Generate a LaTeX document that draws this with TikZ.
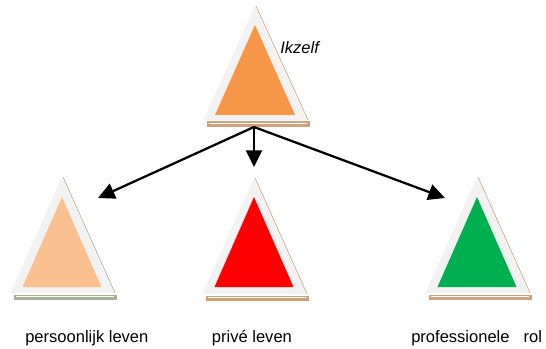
\documentclass[tikz,border=0pt]{standalone}
\usepackage{fontspec}
\setmainfont{Liberation Sans}
\usetikzlibrary{arrows.meta}
\definecolor{outerg}{HTML}{F2F2F2}
\definecolor{tan}{HTML}{CFA27C}
\definecolor{sage}{HTML}{A5B292}
\definecolor{orangeA}{HTML}{F79646}
\definecolor{peach}{HTML}{FAC090}
\definecolor{redA}{HTML}{FF0000}
\definecolor{greenA}{HTML}{00B050}
\tikzset{
  lbl/.style={anchor=base west, inner sep=0pt, font=\fontsize{12.4}{15}\selectfont},
  conn/.style={line width=1.7pt, -{Triangle[length=12.5pt,width=12pt]}},
}
% #1 apex x, #2 apex y outer, #3 base y outer, #4 half width outer, #5 inner apex y, #6 inner base y, #7 inner half width, #8 fill, #9 shadow
\newcommand{\pyr}[9]{%
  \fill[#9] (#1-#4+3,#3+1.5) rectangle (#1+#4+3,#3+7);
  \draw[white, line width=0.45pt] (#1-#4+5,#3+3) -- (#1+#4,#3+3);
  \draw[#9, line width=0.5pt] (#1+1,#2) -- (#1+#4+1.5,#3);
  \fill[outerg] (#1,#2) -- (#1+#4,#3) -- (#1-#4,#3) -- cycle;
  \fill[#8] (#1,#5) -- (#1+#7,#6) -- (#1-#7,#6) -- cycle;
}
\begin{document}
\begin{tikzpicture}[x=0.75pt,y=-0.75pt]
\useasboundingbox (0,0) rectangle (546,349);
\pyr{255}{6}{120}{51.5}{25}{115}{40}{orangeA}{tan}
\pyr{62}{177}{293}{51.5}{197}{287}{39.5}{peach}{sage}
\pyr{254}{178}{294}{51.5}{197}{287}{39.5}{redA}{tan}
\pyr{477}{177}{293}{51.5}{197}{287}{39.5}{greenA}{tan}
\coordinate (src) at (254,127);
\coordinate (tmid) at (254,167);
\coordinate (tleft) at (98,198);
\coordinate (tright) at (445,198);
\draw[conn] (src) -- (tmid);
\draw[conn] (src) -- (tleft);
\draw[conn] (src) -- (tright);
\node[lbl, font=\fontsize{12.4}{15}\selectfont\itshape] (ik) at (280,53.3) {Ikzelf};
\node[lbl] (p1) at (25,342) {persoonlijk leven};
\node[lbl] (p2) at (211.7,342) {privé leven};
\node[lbl] (p3) at (411,342) {professionele\hspace{10.5pt}rol};
\end{tikzpicture}
\end{document}
